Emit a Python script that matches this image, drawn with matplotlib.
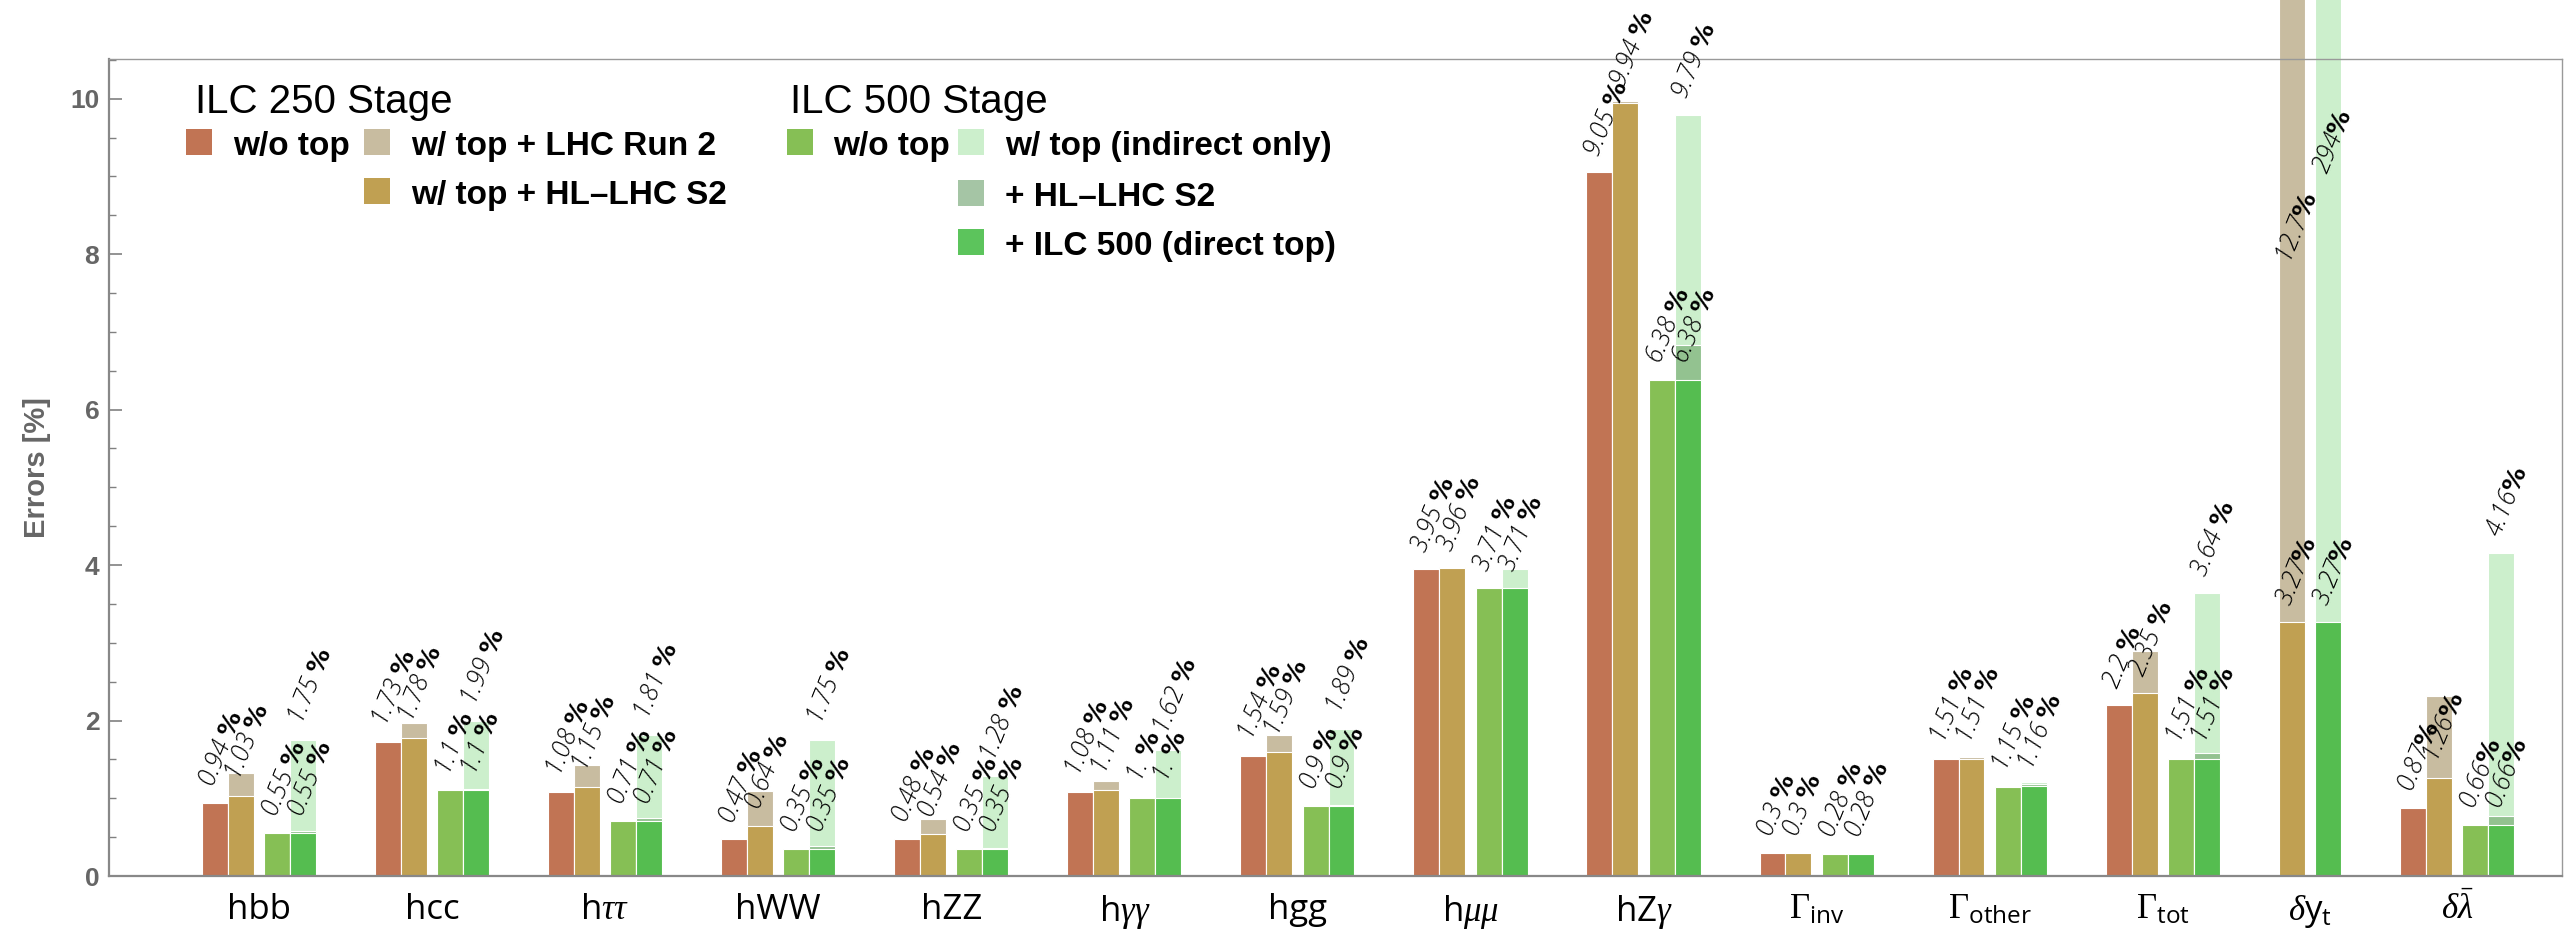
import numpy as np
import matplotlib
matplotlib.use("Agg")
import matplotlib.pyplot as plt
from matplotlib.patches import Rectangle

plt.rcParams["mathtext.fontset"] = "custom"
plt.rcParams["mathtext.rm"] = "Liberation Serif"
plt.rcParams["mathtext.it"] = "Liberation Serif:italic"
plt.rcParams["mathtext.sf"] = "Open Sans"
plt.rcParams["mathtext.bf"] = "Liberation Serif:bold"

# ---- data -------------------------------------------------------------
categories = ["hbb", "hcc", r"h$\tau\tau$", "hWW", "hZZ", r"h$\gamma\gamma$", "hgg",
              r"h$\mu\mu$", r"hZ$\gamma$", r"$\Gamma_{\mathsf{inv}}$",
              r"$\Gamma_{\mathsf{other}}$", r"$\Gamma_{\mathsf{tot}}$",
              r"$\delta\mathsf{y}_{\mathsf{t}}$", r"$\delta\bar{\lambda}$"]

ilc250_wo_top = [0.94, 1.73, 1.08, 0.47, 0.48, 1.08, 1.54, 3.95, 9.05, 0.3, 1.51, 2.2, None, 0.87]
ilc250_hllhc = [1.03, 1.78, 1.15, 0.64, 0.54, 1.11, 1.59, 3.96, 9.94, 0.3, 1.51, 2.35, 3.27, 1.26]
ilc250_run2 = [1.33, 1.97, 1.43, 1.09, 0.73, 1.22, 1.81, 3.98, 9.97, 0.3, 1.53, 2.9, 12.7, 2.32]

ilc500_wo_top = [0.55, 1.1, 0.71, 0.35, 0.35, 1.0, 0.9, 3.71, 6.38, 0.28, 1.15, 1.51, None, 0.66]
ilc500_direct = [0.55, 1.1, 0.71, 0.35, 0.35, 1.0, 0.9, 3.71, 6.38, 0.28, 1.16, 1.51, 3.27, 0.66]
ilc500_hllhc = [0.58, 1.12, 0.75, 0.39, 0.36, 1.0, 0.91, 3.71, 6.83, 0.28, 1.18, 1.58, 3.27, 0.77]
ilc500_indirect = [1.75, 1.99, 1.81, 1.75, 1.28, 1.62, 1.89, 3.95, 9.79, 0.28, 1.21, 3.64, 294, 4.16]

# which of the "indirect only" / "LHC Run 2" tops carry a value label
indirect_labeled = [True, True, True, True, True, True, True, False, True, False, False, True, True, True]
run2_labeled = [False] * 12 + [True, False]
tight_groups = [12, 13]          # "x%" instead of "x %"
offchart_label_y = {12.7: 7.9, 294: 9.05}

# ---- style --------------------------------------------------------------
c_red = "#C17454"
c_tan = "#C8BCA0"
c_gold = "#C0A052"
c_lgreen = "#86BF55"
c_pale = "#CCEFCC"
c_hl = "#93C290"
c_green = "#55BD50"
gray = "#666666"

W, H = 2575, 931
fig = plt.figure(figsize=(W / 100, H / 100), dpi=100)
ax = fig.add_axes([109 / W, 1 - 876 / H, 2453 / W, 817 / H])
ymax = 10.51

bar_w = 1.0
pair_gap = 0.4
group_gap = 2.27

def fmt(v, tight):
    s = f"{v:g}"
    if "." not in s and v < 100:
        s += "."
    return s + ("" if tight else " ") + r"$\mathbf{\%}$"

def label(x, v, tight, y=None):
    if y is None:
        y = v + 0.22
    ax.text(x - 0.28, y, fmt(v, tight), rotation=68, rotation_mode="anchor",
            ha="left", va="center", fontsize=18, family="Open Sans",
            fontweight="light", fontstyle="italic", math_fontfamily="dejavusans")

def bar(x, h, color):
    ax.bar(x, h, width=bar_w, align="edge", color=color, edgecolor="white",
           linewidth=0.8, clip_on=False)

centers = []
x = 0.0
for i in range(len(categories)):
    tight = i in tight_groups
    start = x
    # ILC 250 pair
    if ilc250_wo_top[i] is not None:
        bar(x, ilc250_wo_top[i], c_red)
        label(x + 0.5, ilc250_wo_top[i], tight)
        x += bar_w
    bar(x, ilc250_run2[i], c_tan)
    bar(x, ilc250_hllhc[i], c_gold)
    label(x + 0.5, ilc250_hllhc[i], tight)
    if run2_labeled[i]:
        v = ilc250_run2[i]
        label(x + 0.5, v, tight, offchart_label_y.get(v))
    x += bar_w + pair_gap
    # ILC 500 pair
    if ilc500_wo_top[i] is not None:
        bar(x, ilc500_wo_top[i], c_lgreen)
        label(x + 0.5, ilc500_wo_top[i], tight)
        x += bar_w
    bar(x, ilc500_indirect[i], c_pale)
    bar(x, ilc500_hllhc[i], c_hl)
    bar(x, ilc500_direct[i], c_green)
    label(x + 0.5, ilc500_direct[i], tight)
    if indirect_labeled[i]:
        v = ilc500_indirect[i]
        label(x + 0.5, v, tight, offchart_label_y.get(v))
    x += bar_w
    centers.append((start + x) / 2)
    x += group_gap
end = x - group_gap

ax.set_xlim(-93 / 26, end + 48 / 26)
ax.set_ylim(0, ymax)

ax.set_xticks(centers)
ax.set_xticklabels(categories, fontsize=25, family="Open Sans", math_fontfamily="custom")
ax.tick_params(axis="x", length=0, pad=12)

ax.set_yticks(range(0, 11, 2))
ax.set_yticks(np.arange(0, 10.6, 0.5), minor=True)
ax.tick_params(axis="y", which="major", direction="in", length=9, width=1.2,
               color="#808080", labelsize=19, labelcolor=gray, pad=7)
ax.tick_params(axis="y", which="minor", direction="in", length=5, width=1.0, color="#808080")
for t in ax.get_yticklabels():
    t.set_fontweight("bold")
    t.set_family("Liberation Sans")

ax.set_ylabel("Errors [%]", fontsize=21, fontweight="bold", color=gray,
              family="Liberation Sans", labelpad=14)

for side in ["left", "bottom"]:
    ax.spines[side].set_color("#888888")
    ax.spines[side].set_linewidth(1.6)
for side in ["top", "right"]:
    ax.spines[side].set_color("#999999")
    ax.spines[side].set_linewidth(1.0)

# ---- legend (drawn by hand, figure pixels) ----------------------------
def px_rect(x0, y0, color):
    fig.add_artist(Rectangle((x0 / W, 1 - (y0 + 26) / H), 26 / W, 26 / H,
                             transform=fig.transFigure, color=color, lw=0))

def px_text(x0, yb, s, **kw):
    fig.text(x0 / W, 1 - yb / H, s, ha="left", va="baseline",
             family="Liberation Sans", **kw)

px_text(195, 113, "ILC 250 Stage", fontsize=29)
px_text(790, 113, "ILC 500 Stage", fontsize=29)

leg_items = [
    (186, 129, c_red, 233, "w/o top"),
    (364, 129, c_tan, 411, "w/ top + LHC Run 2"),
    (364, 178, c_gold, 411, "w/ top + HL\u2013LHC S2"),
    (787, 129, c_lgreen, 833, "w/o top"),
    (958, 129, c_pale, 1005, "w/ top (indirect only)"),
    (958, 180, "#A5C5A5", 1005, "+ HL\u2013LHC S2"),
    (958, 229, "#5CC45C", 1005, "+ ILC 500 (direct top)"),
]
for rx, ry, col, tx, txt in leg_items:
    px_rect(rx, ry, col)
    px_text(tx, ry + 26, txt, fontsize=24, fontweight="bold")

fig.savefig("out.png", dpi=100)
